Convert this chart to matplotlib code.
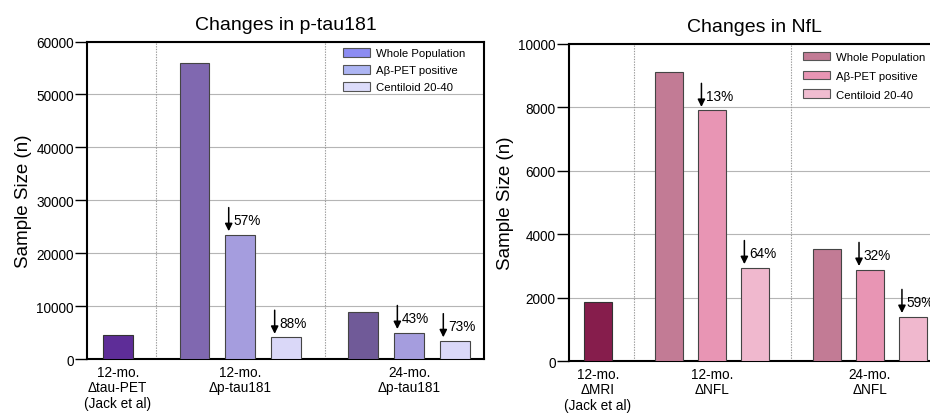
import matplotlib
matplotlib.use('Agg')
import matplotlib.pyplot as plt
from matplotlib.patches import Patch

plt.rcParams['font.family'] = ['Liberation Sans', 'DejaVu Sans']

# --- data ---
legend_names = ['Whole Population', 'A\u03b2-PET positive', 'Centiloid 20-40']

tau_groups = ['12-mo.\n\u0394tau-PET\n(Jack et al)', '12-mo.\n\u0394p-tau181', '24-mo.\n\u0394p-tau181']
tau_ref = 4600
tau_12mo = [56000, 23500, 4100]
tau_24mo = [8800, 5000, 3450]
tau_12mo_pct = [None, '57%', '88%']
tau_24mo_pct = [None, '43%', '73%']

nfl_groups = ['12-mo.\n\u0394MRI\n(Jack et al)', '12-mo.\n\u0394NFL', '24-mo.\n\u0394NFL']
nfl_ref = 1870
nfl_12mo = [9100, 7900, 2950]
nfl_24mo = [3530, 2890, 1410]
nfl_12mo_pct = [None, '13%', '64%']
nfl_24mo_pct = [None, '32%', '59%']

# colours
tau_ref_col = '#5e2d98'
tau_12_cols = ['#8068b0', '#a59dde', '#dad8f8']
tau_24_cols = ['#705a98', '#a59dde', '#dad8f8']
tau_leg_cols = ['#8c8cf2', '#adb5f3', '#dcdcfa']

nfl_ref_col = '#861d4c'
nfl_cols = ['#c27b95', '#e895b4', '#f0b8ce']
nfl_leg_cols = ['#c27b95', '#e895b4', '#f0bcd0']

width = 0.65
gap = 1.67


def draw_panel(ax, title, groups, ref, g1, g2, p1, p2, refcol, c1, c2, legcols,
               ymax, ystep, leg_anchor, labelspacing):
    x_ref = 0.0
    x1 = [x_ref + gap + i for i in range(3)]
    x2 = [x1[-1] + gap + i for i in range(3)]

    ax.bar([x_ref], [ref], width, color=refcol, edgecolor='#333333', linewidth=0.8, zorder=3)
    ax.bar(x1, g1, width, color=c1, edgecolor='#444444', linewidth=0.8, zorder=3)
    ax.bar(x2, g2, width, color=c2, edgecolor='#444444', linewidth=0.8, zorder=3)

    # reduction arrows
    for xs, vals, pcts in [(x1, g1, p1), (x2, g2, p2)]:
        for x, v, p in zip(xs, vals, pcts):
            if p is None:
                continue
            xa = x - width / 2 + 0.07
            ax.annotate('', xy=(xa, v), xytext=(0, 19.5), textcoords='offset points',
                        arrowprops=dict(arrowstyle='-|>', color='black', lw=1.1,
                                        mutation_scale=11, shrinkA=0, shrinkB=2.5),
                        zorder=4)
            ax.annotate(p, xy=(xa, v), xytext=(3.5, 10.5), textcoords='offset points',
                        ha='left', va='center', fontsize=9.8)

    # separators
    for xs in [(x_ref + x1[0]) / 2, (x1[-1] + x2[0]) / 2]:
        ax.axvline(xs, color='#999999', lw=0.8, ls=(0, (1.2, 1.2)), zorder=1)

    ax.set_xlim(x_ref - 0.67, x2[-1] + 0.63)
    ax.set_ylim(0, ymax)
    ax.set_yticks(range(0, ymax + 1, ystep))
    ax.yaxis.grid(True, color='#b5b5b5', lw=0.8, zorder=0)
    ax.set_axisbelow(True)

    ax.set_xticks([x_ref, x1[1], x2[1]])
    ax.set_xticklabels(groups, fontsize=9.8, linespacing=1.15)
    ax.tick_params(axis='x', length=0, pad=4)
    ax.tick_params(axis='y', direction='out', length=8.5, width=1, labelsize=9.8, pad=1)

    for s in ax.spines.values():
        s.set_linewidth(1.5)
        s.set_color('black')

    ax.set_ylabel('Sample Size (n)', fontsize=13.5, labelpad=3)
    ax.set_title(title, fontsize=14, pad=9)

    handles = [Patch(facecolor=c, edgecolor='#555555', linewidth=0.8) for c in legcols]
    ax.legend(handles, legend_names, loc='upper left', bbox_to_anchor=leg_anchor,
              frameon=False, fontsize=8.2, handlelength=2.4, handleheight=0.8,
              handletextpad=0.5, labelspacing=labelspacing, borderpad=0, borderaxespad=0)


fig = plt.figure(figsize=(9.3, 4.14), dpi=100)
ax1 = fig.add_axes([0.0935, 0.1304, 0.4269, 0.7669])
ax2 = fig.add_axes([0.6118, 0.1249, 0.3989, 0.7670])

draw_panel(ax1, 'Changes in p-tau181', tau_groups, tau_ref, tau_12mo, tau_24mo,
           tau_12mo_pct, tau_24mo_pct, tau_ref_col, tau_12_cols, tau_24_cols, tau_leg_cols,
           60000, 10000, (0.645, 0.98), 0.6)
draw_panel(ax2, 'Changes in NfL', nfl_groups, nfl_ref, nfl_12mo, nfl_24mo,
           nfl_12mo_pct, nfl_24mo_pct, nfl_ref_col, nfl_cols, nfl_cols, nfl_leg_cols,
           10000, 2000, (0.631, 0.975), 0.75)

fig.savefig('out.png', dpi=100)
